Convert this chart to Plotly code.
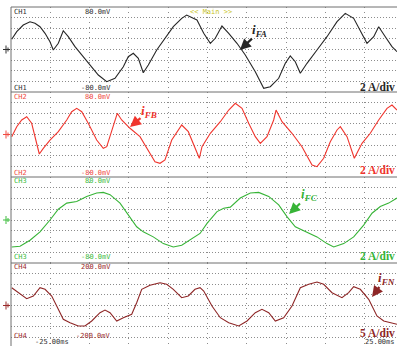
import plotly.graph_objects as go

# ---- waveform data: time in ms, current in A ----
t_fa = [-24.91, -24.27, -23.44, -22.58, -21.95, -21.31, -20.67, -20.04, -19.62, -18.98,
        -18.35, -17.71, -16.86, -16.00, -14.95, -13.89, -12.82, -11.77, -10.71, -10.08,
        -9.44, -8.80, -8.17, -7.53, -6.46, -5.41, -4.35, -3.28, -2.65, -1.81,
        -1.34, -0.48, 0.36, 0.99, 1.84, 2.70, 3.75, 4.81, 6.08, 7.15,
        7.99, 9.06, 9.90, 10.53, 11.17, 11.81, 12.66, 13.93, 15.20, 16.48,
        17.53, 18.60, 19.44, 20.29, 21.15, 21.78, 22.62, 23.47, 24.11]
i_fa = [1.92, 3.35, 4.61, 5.23, 4.93, 4.29, 3.05, 1.47, -0.09, 1.17,
        3.54, 2.41, 0.53, -1.04, -2.92, -4.80, -6.06, -5.42, -3.24, -1.36,
        -0.72, -1.66, -4.37, -2.92, -0.09, 2.11, 4.29, 5.87, 6.49, 5.87,
        5.55, 3.05, 1.17, 2.11, 4.42, 3.05, 1.17, -1.04, -4.18, -7.30,
        -7.00, -5.42, -2.60, -1.22, -2.30, -4.48, -2.60, -0.09, 2.41, 5.23,
        6.81, 5.87, 3.67, 1.17, 2.41, 4.29, 2.41, 0.53, -0.41]

t_fb = [-24.91, -24.27, -23.64, -23.00, -22.37, -21.73, -21.40, -20.89, -20.04, -18.98,
        -17.91, -17.28, -16.64, -16.00, -15.17, -14.10, -13.26, -12.82, -12.19, -11.48,
        -10.92, -9.86, -8.59, -7.53, -6.68, -6.04, -5.41, -4.55, -3.28, -2.44,
        -1.59, -1.04, -0.70, 0.36, 1.63, 2.70, 3.54, 4.39, 5.24, 6.08,
        6.72, 7.57, 8.42, 8.72, 9.48, 10.75, 12.02, 13.30, 13.93, 14.78,
        15.62, 16.48, 16.90, 17.75, 18.68, 19.66, 20.71, 21.78, 22.84, 23.47, 24.11]
i_fb = [-0.41, 1.47, 2.73, 3.35, 2.11, -1.66, -3.67, -2.60, -1.04, 0.53,
        2.73, 4.29, 4.93, 4.29, 2.11, -1.04, -2.60, -2.30, 0.85, 3.99,
        2.73, 1.17, -0.41, -2.92, -5.12, -5.42, -4.80, -1.04, 1.79, 0.53,
        -2.60, -4.48, -2.30, 0.23, 2.41, 4.61, 5.87, 4.93, 2.11, -0.41,
        -1.66, -0.41, 2.73, 4.61, 2.41, 0.23, -2.30, -5.74, -6.06, -4.48,
        -1.36, 0.85, 1.47, -0.41, -4.48, -1.66, 0.23, 2.73, 4.93, 5.55, 4.61]

t_fc = [-24.91, -23.85, -22.58, -21.31, -20.04, -18.98, -17.91, -16.64, -15.37, -14.10,
        -13.26, -12.40, -11.13, -9.86, -9.01, -8.17, -6.90, -5.62, -4.35, -3.28,
        -2.23, -0.95, -0.06, 1.21, 2.06, 2.90, 4.17, 5.45, 6.51, 7.79,
        9.06, 10.11, 11.17, 12.66, 13.93, 15.20, 16.06, 17.33, 18.60, 19.87,
        20.93, 21.98, 23.05, 24.11]
i_fc = [-5.02, -4.89, -3.76, -2.20, 0.00, 2.01, 3.14, 3.44, 4.39, 5.02,
        5.14, 4.71, 3.14, 0.62, -1.26, -2.20, -3.14, -4.39, -5.02, -4.71,
        -3.76, -2.50, -0.62, 1.56, 2.20, 2.39, 4.08, 5.02, 5.14, 4.39,
        2.82, 0.62, -1.26, -2.20, -3.14, -4.39, -5.02, -4.39, -3.14, -0.94,
        1.26, 2.50, 3.14, 4.08]

t_fn = [-24.91, -24.07, -23.00, -22.16, -21.31, -20.67, -19.82, -18.98, -18.35, -17.49,
        -16.44, -15.59, -14.73, -13.68, -13.04, -12.40, -11.55, -10.71, -9.64, -9.01,
        -8.37, -7.32, -6.04, -5.19, -4.35, -3.28, -2.44, -1.59, -0.95, -0.48,
        0.57, 1.63, 2.70, 3.97, 5.03, 6.08, 6.93, 7.79, 8.63, 9.69,
        10.75, 11.81, 12.88, 13.93, 14.78, 15.84, 17.11, 17.96, 18.60, 19.44,
        20.51, 21.56, 22.42, 24.11]
i_fn = [8.38, 6.02, 3.20, 4.47, 8.38, 7.62, 4.47, -1.79, -6.49, -8.09,
        -9.65, -9.65, -7.29, -3.39, -2.12, -3.39, -7.29, -5.74, -4.14, 1.32,
        7.62, 9.51, 10.73, 9.98, 7.62, 3.67, 4.47, 7.62, 8.38, 6.82,
        -0.24, -5.74, -8.09, -9.65, -7.29, -3.39, -1.79, -3.39, -7.29, -5.74,
        -0.24, 8.38, 9.98, 11.06, 9.98, 6.02, 3.67, 6.02, 8.85, 7.62,
        2.92, -4.94, -7.29, -8.85]

channels = ["CH1", "CH2", "CH3", "CH4"]
sub_names = ["FA", "FB", "FC", "FN"]
scale_text = ["2 A/div", "2 A/div", "2 A/div", "5 A/div"]
volt_top = ["80.0mV", "80.0mV", "80.0mV", "200.0mV"]
volt_bot = ["-80.0mV", "-80.0mV", "-80.0mV", "-200.0mV"]
trace_colors = ["#262626", "#f0352d", "#37b437", "#8e2626"]
label_colors = ["#303030", "#f04a40", "#3cbc3c", "#9a2a2a"]

W, H = 397, 346


def px(x):
    return x / W


def py(y):
    return 1 - y / H


# screen zones (pixel rows) for the four channels
zones = [(7, 92), (92, 177), (177, 263), (263, 346)]
yranges = [[-8, 8], [-8, 8], [-8, 8], [-19.06, 20.0]]
dticks = [2, 2, 2, 5]
series = [(t_fa, i_fa), (t_fb, i_fb), (t_fc, i_fc), (t_fn, i_fn)]

fig = go.Figure()
grid_col = "#8c8c8c"

layout = dict(
    width=W, height=H, margin=dict(l=0, r=0, t=0, b=0),
    paper_bgcolor="white", plot_bgcolor="white", showlegend=False,
    xaxis=dict(domain=[px(11), 1], range=[-25, 24.11], tick0=-25, dtick=5,
               showticklabels=False, ticks="", showline=False, zeroline=False,
               showgrid=True, gridcolor=grid_col, gridwidth=1, griddash="1px,4px"),
)

for k in range(4):
    top, bot = zones[k]
    name = "yaxis" if k == 0 else f"yaxis{k + 1}"
    layout[name] = dict(domain=[py(bot), py(top)], range=yranges[k], tick0=0,
                        dtick=dticks[k], anchor="x", showticklabels=False, ticks="",
                        showline=False, zeroline=False, showgrid=True,
                        gridcolor=grid_col, gridwidth=1, griddash="1px,2px")
    t, v = series[k]
    fig.add_trace(go.Scatter(x=t, y=v, mode="lines", xaxis="x",
                             yaxis="y" if k == 0 else f"y{k + 1}",
                             line=dict(color=trace_colors[k], width=1.1),
                             hoverinfo="skip"))

shapes = []
frame = dict(color="#6e6e6e", width=1)
# outer frame and zone separators
shapes.append(dict(type="line", xref="paper", yref="paper", x0=px(11), x1=1,
                   y0=py(7), y1=py(7), line=frame))
shapes.append(dict(type="line", xref="paper", yref="paper", x0=px(11), x1=px(11),
                   y0=py(7), y1=0, line=frame))
for yb in (92, 177, 263):
    shapes.append(dict(type="line", xref="paper", yref="paper", x0=px(11), x1=1,
                       y0=py(yb), y1=py(yb), line=frame))

annotations = []
mono = "DejaVu Sans Mono"
label_rows = [(12, 88.2), (96.6, 172.8), (181.2, 257.2), (267, 335.5)]
scale_rows = [87, 170, 256, 333]
for k in range(4):
    top, bot = zones[k]
    c = label_colors[k]
    yt, yb = label_rows[k]
    for yy, vt in ((yt, volt_top[k]), (yb, volt_bot[k])):
        annotations.append(dict(text=channels[k], x=px(13), y=py(yy), xref="paper",
                                yref="paper", xanchor="left", yanchor="middle",
                                showarrow=False, borderpad=0,
                                font=dict(family=mono, size=7, color=c)))
        annotations.append(dict(text=vt, x=px(112), y=py(yy), xref="paper",
                                yref="paper", xanchor="right", yanchor="middle",
                                showarrow=False, borderpad=0,
                                font=dict(family=mono, size=7, color=c)))
    # amps/div readout
    annotations.append(dict(text="<b>" + scale_text[k] + "</b>", x=px(396), y=py(scale_rows[k]),
                            xref="paper", yref="paper", xanchor="right", yanchor="middle",
                            showarrow=False, borderpad=0,
                            font=dict(family="Liberation Serif", size=11.5,
                                      color=trace_colors[k])))
    # ground reference marker on the left edge
    cy = (top + bot) / 2 if k < 3 else 305.5
    gl = dict(color=c, width=1)
    shapes.append(dict(type="line", xref="paper", yref="paper", x0=px(3), x1=px(10),
                       y0=py(cy), y1=py(cy), line=gl))
    shapes.append(dict(type="line", xref="paper", yref="paper", x0=px(6), x1=px(6),
                       y0=py(cy - 4), y1=py(cy + 4), line=gl))
    shapes.append(dict(type="line", xref="paper", yref="paper", x0=px(8), x1=px(8),
                       y0=py(cy - 2), y1=py(cy + 2), line=gl))

# trigger / timebase readouts
annotations.append(dict(text="<< Main >>", x=px(211), y=py(12), xref="paper", yref="paper",
                        xanchor="center", yanchor="middle", showarrow=False, borderpad=0,
                        font=dict(family=mono, size=7, color="#c8c428")))
annotations.append(dict(text="-25.00ms", x=px(52), y=py(341.5), xref="paper", yref="paper",
                        xanchor="center", yanchor="middle", showarrow=False, borderpad=0,
                        font=dict(family=mono, size=7, color="#303030")))
annotations.append(dict(text="25.00ms", x=px(396), y=py(341.5), xref="paper", yref="paper",
                        xanchor="right", yanchor="middle", showarrow=False, borderpad=0,
                        font=dict(family=mono, size=7, color="#303030")))

# current labels with pointing arrows: arrow tip in data units, label offset in px
tags = [
    ((4.13, -0.09), (20, -19)),
    ((-9.86, 1.41), (19, -16)),
    ((10.37, 1.13), (20, -19)),
    ((20.93, 4.0), (14, -19)),
]
for k, ((tip_t, tip_v), (dx, dy)) in enumerate(tags):
    annotations.append(dict(text="<b><i>i</i><sub><i>" + sub_names[k] + "</i></sub></b>",
                            x=tip_t, y=tip_v, xref="x",
                            yref="y" if k == 0 else f"y{k + 1}",
                            ax=dx, ay=dy, showarrow=True, arrowhead=2, arrowsize=1,
                            arrowwidth=2.2, arrowcolor=trace_colors[k], standoff=0,
                            borderpad=0,
                            font=dict(family="Liberation Serif", size=13,
                                      color=trace_colors[k])))

layout["shapes"] = shapes
layout["annotations"] = annotations
fig.update_layout(**layout)
fig.write_html("out.html")
